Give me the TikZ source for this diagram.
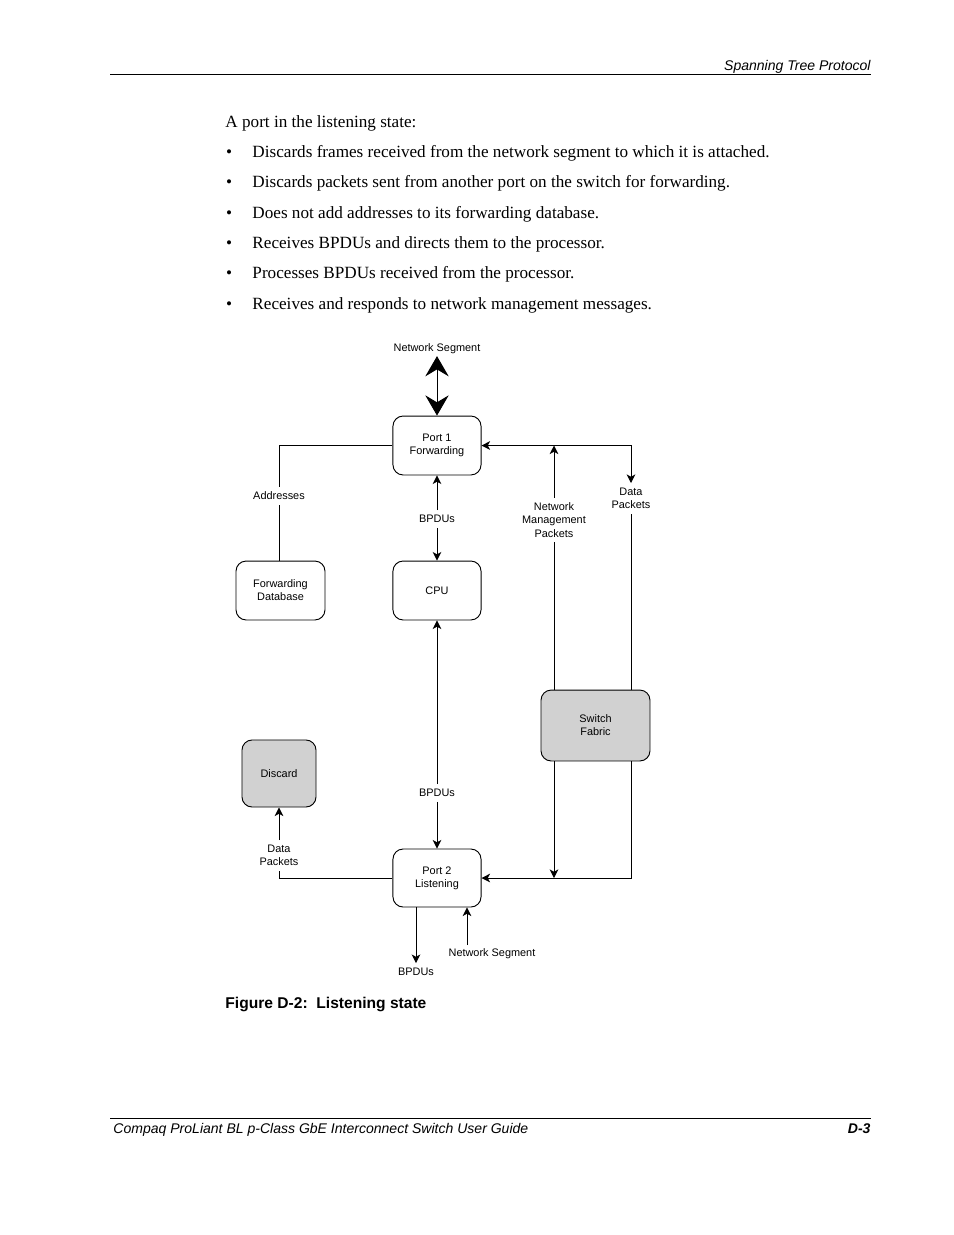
\documentclass[tikz,border=0pt]{standalone}
\usepackage{fontspec}
\setmainfont{Liberation Serif}
\setsansfont{Liberation Sans}
\usepackage{tikz}
\usetikzlibrary{arrows.meta,positioning,calc}
\tikzset{
  every picture/.append style={line width=0.6pt},
}
\begin{document}
\begin{tikzpicture}[
  x=0.6415pt, y=-0.6415pt,
  body/.style   ={anchor=base west, inner sep=0pt, font=\fontsize{11}{13}\selectfont},
  pagefont/.style={inner sep=0pt, font=\sffamily\itshape\fontsize{9}{11}\selectfont},
  box/.style    ={draw, rounded corners=6.5pt, align=center, inner sep=2pt,
                  font=\sffamily\fontsize{7}{8.4}\selectfont, line width=0.6pt},
  portbox/.style={box, minimum width=56.5pt, minimum height=37.8pt},
  greybox/.style={box, fill=black!18},
  lbl/.style    ={align=center, inner sep=3pt, font=\sffamily\fontsize{7}{8.4}\selectfont},
  arr/.style    ={-{Stealth[length=5.5pt,width=5.5pt,inset=1.5pt]}},
  bigarr/.style ={{Stealth[length=13pt,width=15pt,inset=4.5pt]}-{Stealth[length=13pt,width=15pt,inset=4.5pt]}}
]
\useasboundingbox (0,0) rectangle (954,1235);

% page header and footer
\node[pagefont, anchor=base east] (head) at (871,70) {Spanning Tree Protocol};
\draw[line width=0.65pt] (110,74) coordinate (hl) -- (871,74) coordinate (hr);
\draw[line width=0.65pt] (110,1118) coordinate (fl) -- (871,1118) coordinate (fr);
\node[pagefont, anchor=base west] (foot) at (113,1133) {Compaq ProLiant BL p-Class GbE Interconnect Switch User Guide};
\node[pagefont, anchor=base east, font=\sffamily\bfseries\itshape\fontsize{9}{11}\selectfont] (pageno) at (871,1133) {D-3};

% text above the figure
\node[body] (intro) at (225,127) {A port in the listening state:};
\foreach \yy/\txt [count=\i] in {
  157/{Discards frames received from the network segment to which it is attached.},
  187/{Discards packets sent from another port on the switch for forwarding.},
  218/{Does not add addresses to its forwarding database.},
  248/{Receives BPDUs and directs them to the processor.},
  278/{Processes BPDUs received from the processor.},
  309/{Receives and responds to network management messages.}} {
  \node[body, anchor=base] (dot\i) at (229,\yy) {\textbullet};
  \node[body] (item\i) at (252,\yy) {\txt};
}

% boxes
\node[portbox] (port1) at (437,445.5) {Port 1\\Forwarding};
\node[portbox] (cpu)   at (437,590.5) {CPU};
\node[box, minimum width=57.1pt, minimum height=37.8pt] (fdb) at (280.5,590.5) {Forwarding\\Database};
\node[greybox, minimum width=69.9pt, minimum height=45.5pt] (fabric) at (595.5,725.5) {Switch\\Fabric};
\node[greybox, minimum width=47.5pt, minimum height=43pt] (discard) at (279,773.5) {Discard};
\node[portbox, minimum height=37.2pt] (port2) at (437,878) {Port 2\\Listening};

% labels
\node[lbl, inner sep=1pt] (seg1) at (437,349) {Network Segment};
\node[lbl] (addr)  at (279,496) {Addresses};
\node[lbl] (bpdu1) at (437,519) {BPDUs};
\node[lbl] (nmp)   at (554,520) {Network\\Management\\Packets};
\node[lbl] (data1) at (631,498.5) {Data\\Packets};
\node[lbl] (bpdu2) at (437,793) {BPDUs};
\node[lbl] (data2) at (279,855.5) {Data\\Packets};
\node[lbl] (bpdu3) at (416,972) {BPDUs};
\node[lbl] (seg2)  at (492,954) {Network Segment};
\coordinate (segup) at (467,945);

% connectors
\draw[bigarr] (seg1.south) -- (port1.north);
\draw (port1.west) -| (addr.north);
\draw (addr.south) -- (addr.south |- fdb.north);
\draw[arr] (bpdu1.north) -- (port1.south);
\draw[arr] (bpdu1.south) -- (cpu.north);
\draw[arr] (bpdu2.north) -- (cpu.south);
\draw[arr] (bpdu2.south) -- (port2.north);
\draw[arr] (port1.east) -| (data1.north);
\draw (data1.south) -- (data1.south |- fabric.north);
\draw[arr] (data1.north |- port1.east) -- (port1.east);
\draw[arr] (nmp.north) -- (nmp.north |- port1.east);
\draw (nmp.south |- fabric.north) -- (nmp.south);
\draw[arr] (nmp.south |- fabric.south) -- (nmp.south |- port2.east);
\draw[arr] (data1.south |- fabric.south) |- (port2.east);
\draw (port2.west) -| (data2.south);
\draw[arr] (data2.north) -- (discard.south);
\draw[arr] (bpdu3.north |- port2.south) -- (bpdu3.north);
\draw[arr] (segup) -- (segup |- port2.south);

% caption
\node[anchor=base west, inner sep=0pt, font=\sffamily\bfseries\fontsize{10}{12}\selectfont] (caption) at (225,1008) {Figure D-2:\ \ Listening state};
\end{tikzpicture}
\end{document}
